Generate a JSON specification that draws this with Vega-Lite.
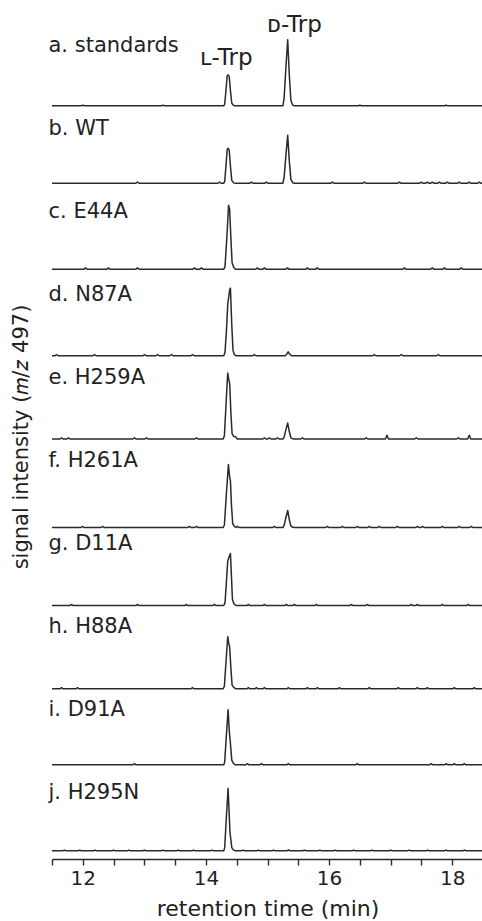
{
"$schema": "https://vega.github.io/schema/vega-lite/v6.json",
"padding": {"left": 10, "top": 14, "right": 0, "bottom": 0},
"background": "white",
"bounds": "flush",
"config": {"view": {"stroke": null}, "font": "DejaVu Sans"},
"datasets": {
"labels": [{"s":"a","label":"a. standards"},{"s":"b","label":"b. WT"},{"s":"c","label":"c. E44A"},{"s":"d","label":"d. N87A"},{"s":"e","label":"e. H259A"},{"s":"f","label":"f. H261A"},{"s":"g","label":"g. D11A"},{"s":"h","label":"h. H88A"},{"s":"i","label":"i. D91A"},{"s":"j","label":"j. H295N"}],
"traces": [
{"s":"a","t":11.5,"v":7.5},{"s":"a","t":11.975,"v":7.5},{"s":"a","t":12,"v":8.1},{"s":"a","t":12.025,"v":7.5},{"s":"a","t":13.275,"v":7.5},{"s":"a","t":13.3,"v":8.1},{"s":"a","t":13.325,"v":7.5},
{"s":"a","t":14.29,"v":7.5},{"s":"a","t":14.305,"v":9.4},{"s":"a","t":14.33,"v":29.9},{"s":"a","t":14.345,"v":43.7},{"s":"a","t":14.36,"v":44.8},{"s":"a","t":14.378,"v":42.9},{"s":"a","t":14.4,"v":24.3},{"s":"a","t":14.42,"v":10.5},{"s":"a","t":14.45,"v":7.9},{"s":"a","t":14.48,"v":7.5},
{"s":"a","t":15.25,"v":7.5},{"s":"a","t":15.27,"v":17},{"s":"a","t":15.3,"v":55.2},{"s":"a","t":15.328,"v":87},{"s":"a","t":15.355,"v":43.3},{"s":"a","t":15.38,"v":13.9},{"s":"a","t":15.41,"v":8.3},{"s":"a","t":15.44,"v":7.5},
{"s":"a","t":16.475,"v":7.5},{"s":"a","t":16.5,"v":8.1},{"s":"a","t":16.525,"v":7.5},{"s":"a","t":17.875,"v":7.5},{"s":"a","t":17.9,"v":8.1},{"s":"a","t":17.925,"v":7.5},{"s":"a","t":18.5,"v":7.5},

{"s":"b","t":11.5,"v":14.2},{"s":"b","t":12.863,"v":14.2},{"s":"b","t":12.888,"v":15.7},{"s":"b","t":12.913,"v":14.2},{"s":"b","t":14.194,"v":14.2},{"s":"b","t":14.219,"v":15.7},{"s":"b","t":14.244,"v":14.2},
{"s":"b","t":14.29,"v":14.2},{"s":"b","t":14.305,"v":16.3},{"s":"b","t":14.33,"v":39.4},{"s":"b","t":14.345,"v":54.9},{"s":"b","t":14.36,"v":56.2},{"s":"b","t":14.378,"v":54.1},{"s":"b","t":14.4,"v":33.1},{"s":"b","t":14.42,"v":17.6},{"s":"b","t":14.45,"v":14.6},{"s":"b","t":14.48,"v":14.2},
{"s":"b","t":14.714,"v":14.2},{"s":"b","t":14.739,"v":15.4},{"s":"b","t":14.764,"v":14.2},{"s":"b","t":14.957,"v":14.2},{"s":"b","t":14.982,"v":15.4},{"s":"b","t":15.007,"v":14.2},
{"s":"b","t":15.25,"v":14.2},{"s":"b","t":15.27,"v":21.1},{"s":"b","t":15.3,"v":48.9},{"s":"b","t":15.328,"v":72},{"s":"b","t":15.355,"v":40.2},{"s":"b","t":15.38,"v":18.8},{"s":"b","t":15.41,"v":14.8},{"s":"b","t":15.44,"v":14.2},
{"s":"b","t":16.029,"v":14.2},{"s":"b","t":16.054,"v":15.4},{"s":"b","t":16.079,"v":14.2},
{"s":"b","t":16.548,"v":14.2},{"s":"b","t":16.573,"v":15.4},{"s":"b","t":16.598,"v":14.2},
{"s":"b","t":17.116,"v":14.2},{"s":"b","t":17.141,"v":15.4},{"s":"b","t":17.166,"v":14.2},
{"s":"b","t":17.473,"v":14.2},{"s":"b","t":17.498,"v":15.4},{"s":"b","t":17.523,"v":14.2},
{"s":"b","t":17.571,"v":14.2},{"s":"b","t":17.596,"v":15.4},{"s":"b","t":17.621,"v":14.2},
{"s":"b","t":17.652,"v":14.2},{"s":"b","t":17.677,"v":15.4},{"s":"b","t":17.702,"v":14.2},
{"s":"b","t":17.766,"v":14.2},{"s":"b","t":17.791,"v":15.4},{"s":"b","t":17.816,"v":14.2},
{"s":"b","t":17.895,"v":14.2},{"s":"b","t":17.92,"v":15.4},{"s":"b","t":17.945,"v":14.2},
{"s":"b","t":18.09,"v":14.2},{"s":"b","t":18.115,"v":15.4},{"s":"b","t":18.14,"v":14.2},
{"s":"b","t":18.252,"v":14.2},{"s":"b","t":18.277,"v":15.4},{"s":"b","t":18.302,"v":14.2},
{"s":"b","t":18.415,"v":14.2},{"s":"b","t":18.44,"v":15.4},{"s":"b","t":18.465,"v":14.2},{"s":"b","t":18.5,"v":14.2},

{"s":"c","t":11.5,"v":10.6},
{"s":"c","t":12.019,"v":10.6},{"s":"c","t":12.044,"v":12.1},{"s":"c","t":12.069,"v":10.6},
{"s":"c","t":12.392,"v":10.6},{"s":"c","t":12.417,"v":12.1},{"s":"c","t":12.442,"v":10.6},
{"s":"c","t":12.863,"v":10.6},{"s":"c","t":12.888,"v":12.1},{"s":"c","t":12.913,"v":10.6},
{"s":"c","t":13.788,"v":10.6},{"s":"c","t":13.813,"v":12.1},{"s":"c","t":13.838,"v":10.6},
{"s":"c","t":13.902,"v":10.6},{"s":"c","t":13.927,"v":12.1},{"s":"c","t":13.952,"v":10.6},
{"s":"c","t":14.29,"v":10.6},{"s":"c","t":14.31,"v":13.7},{"s":"c","t":14.34,"v":49.1},{"s":"c","t":14.368,"v":87.6},{"s":"c","t":14.385,"v":82.2},{"s":"c","t":14.405,"v":49.1},{"s":"c","t":14.425,"v":18.3},{"s":"c","t":14.45,"v":12.9},{"s":"c","t":14.48,"v":10.6},
{"s":"c","t":14.811,"v":10.6},{"s":"c","t":14.836,"v":12.1},{"s":"c","t":14.861,"v":10.6},
{"s":"c","t":14.925,"v":10.6},{"s":"c","t":14.95,"v":12.1},{"s":"c","t":14.975,"v":10.6},
{"s":"c","t":15.298,"v":10.6},{"s":"c","t":15.323,"v":12.1},{"s":"c","t":15.348,"v":10.6},
{"s":"c","t":15.623,"v":10.6},{"s":"c","t":15.648,"v":12.1},{"s":"c","t":15.673,"v":10.6},
{"s":"c","t":15.785,"v":10.6},{"s":"c","t":15.81,"v":12.1},{"s":"c","t":15.835,"v":10.6},
{"s":"c","t":17.197,"v":10.6},{"s":"c","t":17.222,"v":12.1},{"s":"c","t":17.247,"v":10.6},
{"s":"c","t":17.652,"v":10.6},{"s":"c","t":17.677,"v":12.1},{"s":"c","t":17.702,"v":10.6},
{"s":"c","t":17.847,"v":10.6},{"s":"c","t":17.872,"v":12.1},{"s":"c","t":17.897,"v":10.6},
{"s":"c","t":18.123,"v":10.6},{"s":"c","t":18.148,"v":12.1},{"s":"c","t":18.173,"v":10.6},{"s":"c","t":18.5,"v":10.6},

{"s":"d","t":11.5,"v":6.3},
{"s":"d","t":11.548,"v":6.3},{"s":"d","t":11.573,"v":7.8},{"s":"d","t":11.598,"v":6.3},
{"s":"d","t":12.165,"v":6.3},{"s":"d","t":12.19,"v":7.8},{"s":"d","t":12.215,"v":6.3},
{"s":"d","t":12.977,"v":6.3},{"s":"d","t":13.002,"v":7.8},{"s":"d","t":13.027,"v":6.3},
{"s":"d","t":13.188,"v":6.3},{"s":"d","t":13.213,"v":7.8},{"s":"d","t":13.238,"v":6.3},
{"s":"d","t":13.415,"v":6.3},{"s":"d","t":13.44,"v":7.8},{"s":"d","t":13.465,"v":6.3},
{"s":"d","t":13.756,"v":6.3},{"s":"d","t":13.781,"v":7.8},{"s":"d","t":13.806,"v":6.3},
{"s":"d","t":14.29,"v":6.3},{"s":"d","t":14.31,"v":10.4},{"s":"d","t":14.335,"v":38.9},{"s":"d","t":14.354,"v":68.2},{"s":"d","t":14.385,"v":85.4},{"s":"d","t":14.398,"v":87.8},{"s":"d","t":14.42,"v":43},{"s":"d","t":14.44,"v":12.8},{"s":"d","t":14.46,"v":7.9},{"s":"d","t":14.49,"v":6.3},
{"s":"d","t":14.762,"v":6.3},{"s":"d","t":14.787,"v":7.8},{"s":"d","t":14.812,"v":6.3},
{"s":"d","t":15.29,"v":6.3},{"s":"d","t":15.315,"v":8.5},{"s":"d","t":15.335,"v":11.1},{"s":"d","t":15.36,"v":8.3},{"s":"d","t":15.39,"v":6.3},
{"s":"d","t":16.71,"v":6.3},{"s":"d","t":16.735,"v":7.8},{"s":"d","t":16.76,"v":6.3},
{"s":"d","t":17.149,"v":6.3},{"s":"d","t":17.174,"v":7.8},{"s":"d","t":17.199,"v":6.3},
{"s":"d","t":17.749,"v":6.3},{"s":"d","t":17.774,"v":7.8},{"s":"d","t":17.799,"v":6.3},{"s":"d","t":18.5,"v":6.3},

{"s":"e","t":11.5,"v":6},
{"s":"e","t":11.629,"v":6},{"s":"e","t":11.654,"v":7.5},{"s":"e","t":11.679,"v":6},
{"s":"e","t":11.743,"v":6},{"s":"e","t":11.768,"v":7.5},{"s":"e","t":11.793,"v":6},
{"s":"e","t":12.814,"v":6},{"s":"e","t":12.839,"v":7.5},{"s":"e","t":12.864,"v":6},
{"s":"e","t":13.009,"v":6},{"s":"e","t":13.034,"v":7.5},{"s":"e","t":13.059,"v":6},
{"s":"e","t":13.821,"v":6},{"s":"e","t":13.846,"v":7.5},{"s":"e","t":13.871,"v":6},
{"s":"e","t":14.28,"v":6},{"s":"e","t":14.3,"v":10},{"s":"e","t":14.325,"v":45.8},{"s":"e","t":14.354,"v":85.5},{"s":"e","t":14.372,"v":77.6},{"s":"e","t":14.386,"v":72.8},{"s":"e","t":14.405,"v":37.8},{"s":"e","t":14.425,"v":12.4},{"s":"e","t":14.45,"v":9.2},{"s":"e","t":14.48,"v":8.8},{"s":"e","t":14.51,"v":6},
{"s":"e","t":14.925,"v":6},{"s":"e","t":14.95,"v":7.5},{"s":"e","t":14.975,"v":6},
{"s":"e","t":15.006,"v":6},{"s":"e","t":15.031,"v":7.5},{"s":"e","t":15.056,"v":6},
{"s":"e","t":15.136,"v":6},{"s":"e","t":15.161,"v":7.5},{"s":"e","t":15.186,"v":6},
{"s":"e","t":15.25,"v":6},{"s":"e","t":15.27,"v":8.3},{"s":"e","t":15.3,"v":17.6},{"s":"e","t":15.328,"v":25.3},{"s":"e","t":15.355,"v":14.7},{"s":"e","t":15.38,"v":7.5},{"s":"e","t":15.41,"v":6.2},{"s":"e","t":15.44,"v":6},
{"s":"e","t":15.542,"v":6},{"s":"e","t":15.567,"v":7.5},{"s":"e","t":15.592,"v":6},
{"s":"e","t":16.579,"v":6},{"s":"e","t":16.604,"v":7.5},{"s":"e","t":16.629,"v":6},
{"s":"e","t":16.915,"v":6},{"s":"e","t":16.94,"v":10.5},{"s":"e","t":16.965,"v":6},
{"s":"e","t":17.392,"v":6},{"s":"e","t":17.417,"v":7.5},{"s":"e","t":17.442,"v":6},
{"s":"e","t":18.074,"v":6},{"s":"e","t":18.099,"v":7.5},{"s":"e","t":18.124,"v":6},
{"s":"e","t":18.252,"v":6},{"s":"e","t":18.277,"v":10.5},{"s":"e","t":18.302,"v":6},{"s":"e","t":18.5,"v":6},

{"s":"f","t":11.5,"v":-0.6},
{"s":"f","t":11.97,"v":-0.6},{"s":"f","t":11.995,"v":0.7},{"s":"f","t":12.02,"v":-0.6},
{"s":"f","t":12.295,"v":-0.6},{"s":"f","t":12.32,"v":0.7},{"s":"f","t":12.345,"v":-0.6},
{"s":"f","t":13.707,"v":-0.6},{"s":"f","t":13.732,"v":0.7},{"s":"f","t":13.757,"v":-0.6},
{"s":"f","t":13.821,"v":-0.6},{"s":"f","t":13.846,"v":0.7},{"s":"f","t":13.871,"v":-0.6},
{"s":"f","t":14.28,"v":-0.6},{"s":"f","t":14.3,"v":2.4},{"s":"f","t":14.33,"v":37.4},{"s":"f","t":14.365,"v":75.4},{"s":"f","t":14.385,"v":60.2},{"s":"f","t":14.398,"v":55.6},{"s":"f","t":14.415,"v":26},{"s":"f","t":14.435,"v":4},{"s":"f","t":14.46,"v":0.9},{"s":"f","t":14.49,"v":-0.6},{"s":"f","t":14.511,"v":0.7},{"s":"f","t":14.536,"v":-0.6},
{"s":"f","t":15.087,"v":-0.6},{"s":"f","t":15.112,"v":0.7},{"s":"f","t":15.137,"v":-0.6},
{"s":"f","t":15.25,"v":-0.6},{"s":"f","t":15.27,"v":1.9},{"s":"f","t":15.3,"v":11.7},{"s":"f","t":15.328,"v":19.9},{"s":"f","t":15.355,"v":8.6},{"s":"f","t":15.38,"v":1},{"s":"f","t":15.41,"v":-0.4},{"s":"f","t":15.44,"v":-0.6},
{"s":"f","t":15.947,"v":-0.6},{"s":"f","t":15.972,"v":0.7},{"s":"f","t":15.997,"v":-0.6},
{"s":"f","t":16.191,"v":-0.6},{"s":"f","t":16.216,"v":0.7},{"s":"f","t":16.241,"v":-0.6},
{"s":"f","t":16.434,"v":-0.6},{"s":"f","t":16.459,"v":0.7},{"s":"f","t":16.484,"v":-0.6},
{"s":"f","t":16.629,"v":-0.6},{"s":"f","t":16.654,"v":0.7},{"s":"f","t":16.679,"v":-0.6},
{"s":"f","t":16.792,"v":-0.6},{"s":"f","t":16.817,"v":0.7},{"s":"f","t":16.842,"v":-0.6},
{"s":"f","t":17.085,"v":-0.6},{"s":"f","t":17.11,"v":0.7},{"s":"f","t":17.135,"v":-0.6},
{"s":"f","t":17.41,"v":-0.6},{"s":"f","t":17.435,"v":0.7},{"s":"f","t":17.46,"v":-0.6},
{"s":"f","t":17.491,"v":-0.6},{"s":"f","t":17.516,"v":0.7},{"s":"f","t":17.541,"v":-0.6},
{"s":"f","t":17.815,"v":-0.6},{"s":"f","t":17.84,"v":0.7},{"s":"f","t":17.865,"v":-0.6},
{"s":"f","t":18.091,"v":-0.6},{"s":"f","t":18.116,"v":0.7},{"s":"f","t":18.141,"v":-0.6},
{"s":"f","t":18.285,"v":-0.6},{"s":"f","t":18.31,"v":0.7},{"s":"f","t":18.335,"v":-0.6},{"s":"f","t":18.5,"v":-0.6},

{"s":"g","t":11.5,"v":5.4},
{"s":"g","t":11.792,"v":5.4},{"s":"g","t":11.817,"v":6.7},{"s":"g","t":11.842,"v":5.4},
{"s":"g","t":12.863,"v":5.4},{"s":"g","t":12.888,"v":6.7},{"s":"g","t":12.913,"v":5.4},
{"s":"g","t":13.658,"v":5.4},{"s":"g","t":13.683,"v":6.7},{"s":"g","t":13.708,"v":5.4},
{"s":"g","t":14.113,"v":5.4},{"s":"g","t":14.138,"v":6.7},{"s":"g","t":14.163,"v":5.4},
{"s":"g","t":14.29,"v":5.4},{"s":"g","t":14.31,"v":8.5},{"s":"g","t":14.335,"v":36.8},{"s":"g","t":14.354,"v":58.7},{"s":"g","t":14.375,"v":63.7},{"s":"g","t":14.398,"v":68.1},{"s":"g","t":14.415,"v":39.9},{"s":"g","t":14.43,"v":12.9},{"s":"g","t":14.455,"v":7.3},{"s":"g","t":14.49,"v":5.4},
{"s":"g","t":14.665,"v":5.4},{"s":"g","t":14.69,"v":6.7},{"s":"g","t":14.715,"v":5.4},
{"s":"g","t":14.925,"v":5.4},{"s":"g","t":14.95,"v":6.7},{"s":"g","t":14.975,"v":5.4},
{"s":"g","t":15.282,"v":5.4},{"s":"g","t":15.307,"v":6.7},{"s":"g","t":15.332,"v":5.4},
{"s":"g","t":15.412,"v":5.4},{"s":"g","t":15.437,"v":6.7},{"s":"g","t":15.462,"v":5.4},
{"s":"g","t":15.769,"v":5.4},{"s":"g","t":15.794,"v":6.7},{"s":"g","t":15.819,"v":5.4},
{"s":"g","t":16.337,"v":5.4},{"s":"g","t":16.362,"v":6.7},{"s":"g","t":16.387,"v":5.4},
{"s":"g","t":16.597,"v":5.4},{"s":"g","t":16.622,"v":6.7},{"s":"g","t":16.647,"v":5.4},
{"s":"g","t":17.311,"v":5.4},{"s":"g","t":17.336,"v":6.7},{"s":"g","t":17.361,"v":5.4},
{"s":"g","t":17.408,"v":5.4},{"s":"g","t":17.433,"v":6.7},{"s":"g","t":17.458,"v":5.4},
{"s":"g","t":17.814,"v":5.4},{"s":"g","t":17.839,"v":6.7},{"s":"g","t":17.864,"v":5.4},
{"s":"g","t":18.236,"v":5.4},{"s":"g","t":18.261,"v":6.7},{"s":"g","t":18.286,"v":5.4},{"s":"g","t":18.5,"v":5.4},

{"s":"h","t":11.5,"v":5.1},
{"s":"h","t":11.629,"v":5.1},{"s":"h","t":11.654,"v":6.4},{"s":"h","t":11.679,"v":5.1},
{"s":"h","t":11.889,"v":5.1},{"s":"h","t":11.914,"v":6.4},{"s":"h","t":11.939,"v":5.1},
{"s":"h","t":13.756,"v":5.1},{"s":"h","t":13.781,"v":6.4},{"s":"h","t":13.806,"v":5.1},
{"s":"h","t":14.28,"v":5.1},{"s":"h","t":14.3,"v":8.2},{"s":"h","t":14.325,"v":36.5},{"s":"h","t":14.354,"v":67.8},{"s":"h","t":14.37,"v":60.3},{"s":"h","t":14.386,"v":55.3},{"s":"h","t":14.405,"v":30.2},{"s":"h","t":14.425,"v":9.5},{"s":"h","t":14.45,"v":7},{"s":"h","t":14.48,"v":5.1},
{"s":"h","t":14.665,"v":5.1},{"s":"h","t":14.69,"v":6.4},{"s":"h","t":14.715,"v":5.1},
{"s":"h","t":14.795,"v":5.1},{"s":"h","t":14.82,"v":6.4},{"s":"h","t":14.845,"v":5.1},
{"s":"h","t":14.925,"v":5.1},{"s":"h","t":14.95,"v":6.4},{"s":"h","t":14.975,"v":5.1},
{"s":"h","t":15.314,"v":5.1},{"s":"h","t":15.339,"v":6.4},{"s":"h","t":15.364,"v":5.1},
{"s":"h","t":15.623,"v":5.1},{"s":"h","t":15.648,"v":6.4},{"s":"h","t":15.673,"v":5.1},
{"s":"h","t":15.785,"v":5.1},{"s":"h","t":15.81,"v":6.4},{"s":"h","t":15.835,"v":5.1},
{"s":"h","t":16.142,"v":5.1},{"s":"h","t":16.167,"v":6.4},{"s":"h","t":16.192,"v":5.1},
{"s":"h","t":16.629,"v":5.1},{"s":"h","t":16.654,"v":6.4},{"s":"h","t":16.679,"v":5.1},
{"s":"h","t":17.1,"v":5.1},{"s":"h","t":17.125,"v":6.4},{"s":"h","t":17.15,"v":5.1},
{"s":"h","t":17.408,"v":5.1},{"s":"h","t":17.433,"v":6.4},{"s":"h","t":17.458,"v":5.1},
{"s":"h","t":17.571,"v":5.1},{"s":"h","t":17.596,"v":6.4},{"s":"h","t":17.621,"v":5.1},
{"s":"h","t":18.009,"v":5.1},{"s":"h","t":18.034,"v":6.4},{"s":"h","t":18.059,"v":5.1},
{"s":"h","t":18.334,"v":5.1},{"s":"h","t":18.359,"v":6.4},{"s":"h","t":18.384,"v":5.1},{"s":"h","t":18.5,"v":5.1},

{"s":"i","t":11.5,"v":13.5},
{"s":"i","t":12.814,"v":13.5},{"s":"i","t":12.839,"v":14.8},{"s":"i","t":12.864,"v":13.5},
{"s":"i","t":14.29,"v":13.5},{"s":"i","t":14.305,"v":16.8},{"s":"i","t":14.33,"v":46.7},{"s":"i","t":14.36,"v":79.8},{"s":"i","t":14.38,"v":53.3},{"s":"i","t":14.398,"v":39.4},{"s":"i","t":14.42,"v":18.8},{"s":"i","t":14.45,"v":14.8},{"s":"i","t":14.48,"v":13.5},
{"s":"i","t":14.649,"v":13.5},{"s":"i","t":14.674,"v":14.8},{"s":"i","t":14.699,"v":13.5},
{"s":"i","t":14.876,"v":13.5},{"s":"i","t":14.901,"v":14.8},{"s":"i","t":14.926,"v":13.5},
{"s":"i","t":15.314,"v":13.5},{"s":"i","t":15.339,"v":14.8},{"s":"i","t":15.364,"v":13.5},
{"s":"i","t":16.434,"v":13.5},{"s":"i","t":16.459,"v":14.8},{"s":"i","t":16.484,"v":13.5},
{"s":"i","t":17.635,"v":13.5},{"s":"i","t":17.66,"v":14.8},{"s":"i","t":17.685,"v":13.5},
{"s":"i","t":17.879,"v":13.5},{"s":"i","t":17.904,"v":14.8},{"s":"i","t":17.929,"v":13.5},
{"s":"i","t":18.009,"v":13.5},{"s":"i","t":18.034,"v":14.8},{"s":"i","t":18.059,"v":13.5},
{"s":"i","t":18.171,"v":13.5},{"s":"i","t":18.196,"v":14.8},{"s":"i","t":18.221,"v":13.5},{"s":"i","t":18.5,"v":13.5},

{"s":"j","t":11.5,"v":9.9},
{"s":"j","t":11.675,"v":9.9},{"s":"j","t":11.7,"v":10.7},{"s":"j","t":11.725,"v":9.9},
{"s":"j","t":11.925,"v":9.9},{"s":"j","t":11.95,"v":10.7},{"s":"j","t":11.975,"v":9.9},
{"s":"j","t":12.175,"v":9.9},{"s":"j","t":12.2,"v":10.7},{"s":"j","t":12.225,"v":9.9},
{"s":"j","t":12.475,"v":9.9},{"s":"j","t":12.5,"v":10.7},{"s":"j","t":12.525,"v":9.9},
{"s":"j","t":12.725,"v":9.9},{"s":"j","t":12.75,"v":10.7},{"s":"j","t":12.775,"v":9.9},
{"s":"j","t":12.975,"v":9.9},{"s":"j","t":13,"v":10.7},{"s":"j","t":13.025,"v":9.9},
{"s":"j","t":13.275,"v":9.9},{"s":"j","t":13.3,"v":10.7},{"s":"j","t":13.325,"v":9.9},
{"s":"j","t":13.525,"v":9.9},{"s":"j","t":13.55,"v":10.7},{"s":"j","t":13.575,"v":9.9},
{"s":"j","t":13.775,"v":9.9},{"s":"j","t":13.8,"v":10.7},{"s":"j","t":13.825,"v":9.9},
{"s":"j","t":14.075,"v":9.9},{"s":"j","t":14.1,"v":10.7},{"s":"j","t":14.125,"v":9.9},
{"s":"j","t":14.29,"v":9.9},{"s":"j","t":14.305,"v":13.7},{"s":"j","t":14.33,"v":47.6},{"s":"j","t":14.36,"v":85.3},{"s":"j","t":14.39,"v":32.5},{"s":"j","t":14.42,"v":13.7},{"s":"j","t":14.45,"v":10.7},{"s":"j","t":14.48,"v":9.9},
{"s":"j","t":14.575,"v":9.9},{"s":"j","t":14.6,"v":10.7},{"s":"j","t":14.625,"v":9.9},
{"s":"j","t":14.825,"v":9.9},{"s":"j","t":14.85,"v":10.7},{"s":"j","t":14.875,"v":9.9},
{"s":"j","t":15.075,"v":9.9},{"s":"j","t":15.1,"v":10.7},{"s":"j","t":15.125,"v":9.9},
{"s":"j","t":15.315,"v":9.9},{"s":"j","t":15.34,"v":11.1},{"s":"j","t":15.365,"v":9.9},
{"s":"j","t":15.575,"v":9.9},{"s":"j","t":15.6,"v":10.7},{"s":"j","t":15.625,"v":9.9},
{"s":"j","t":15.825,"v":9.9},{"s":"j","t":15.85,"v":10.7},{"s":"j","t":15.875,"v":9.9},
{"s":"j","t":16.075,"v":9.9},{"s":"j","t":16.1,"v":10.7},{"s":"j","t":16.125,"v":9.9},
{"s":"j","t":16.375,"v":9.9},{"s":"j","t":16.4,"v":10.7},{"s":"j","t":16.425,"v":9.9},
{"s":"j","t":16.675,"v":9.9},{"s":"j","t":16.7,"v":10.7},{"s":"j","t":16.725,"v":9.9},
{"s":"j","t":16.975,"v":9.9},{"s":"j","t":17,"v":10.7},{"s":"j","t":17.025,"v":9.9},
{"s":"j","t":17.275,"v":9.9},{"s":"j","t":17.3,"v":10.7},{"s":"j","t":17.325,"v":9.9},
{"s":"j","t":17.575,"v":9.9},{"s":"j","t":17.6,"v":10.7},{"s":"j","t":17.625,"v":9.9},
{"s":"j","t":17.875,"v":9.9},{"s":"j","t":17.9,"v":10.7},{"s":"j","t":17.925,"v":9.9},
{"s":"j","t":18.175,"v":9.9},{"s":"j","t":18.2,"v":10.7},{"s":"j","t":18.225,"v":9.9},{"s":"j","t":18.5,"v":9.9}
]
},
"data": {"name": "traces"},
"transform": [{"lookup": "s", "from": {"data": {"name": "labels"}, "key": "s", "fields": ["label"]}}],
"facet": {"row": {"field": "s", "type": "nominal", "title": "signal intensity (𝑚/𝑧 497)", "header": {"labels": false, "titleFont": "DejaVu Sans", "titleFontSize": 21, "titleFontWeight": "normal", "titleColor": "#222", "titlePadding": 10}}},
"spacing": {"row": 0},
"spec": {
"width": 431,
"height": 83,
"layer": [
{"mark": {"type": "line", "color": "#2a2a2a", "strokeWidth": 1.5, "strokeJoin": "round"},
"encoding": {
"x": {"field": "t", "type": "quantitative", "scale": {"domain": [11.5, 18.5], "nice": false, "zero": false},
"axis": {"tickCount": 14, "labelExpr": "datum.value % 2 === 0 ? format(datum.value, 'd') : ''", "tickSize": 6, "tickColor": "#2a2a2a", "tickWidth": 1.4, "domainColor": "#2a2a2a", "domainWidth": 1.7, "labelFont": "DejaVu Sans", "labelFontSize": 20, "labelColor": "#222", "labelPadding": 3, "labelFlush": false, "labelOverlap": false, "grid": false, "title": "retention time (min)", "titleFont": "DejaVu Sans", "titleFontSize": 22, "titleFontWeight": "normal", "titleColor": "#222", "titlePadding": 10}},
"y": {"field": "v", "type": "quantitative", "scale": {"domain": [0, 100], "nice": false, "zero": false}, "axis": null}
}},
{"transform": [{"aggregate": [{"op": "count", "as": "n"}], "groupby": ["s", "label"]}],
"mark": {"type": "text", "align": "left", "baseline": "alphabetic", "dx": -3.5, "fontSize": 21, "font": "DejaVu Sans", "color": "#222"},
"encoding": {"x": {"datum": 11.5}, "y": {"datum": 72}, "text": {"field": "label"}}},
{"transform": [{"filter": "datum.s === 'a'"}, {"aggregate": [{"op": "count", "as": "n"}], "groupby": ["s"]}],
"mark": {"type": "text", "align": "center", "baseline": "alphabetic", "fontSize": 23, "font": "DejaVu Sans", "color": "#222"},
"encoding": {"x": {"datum": 14.33}, "y": {"datum": 57.2}, "text": {"value": "ʟ-Trp"}}},
{"transform": [{"filter": "datum.s === 'a'"}, {"aggregate": [{"op": "count", "as": "n"}], "groupby": ["s"]}],
"mark": {"type": "text", "align": "center", "baseline": "alphabetic", "fontSize": 23, "font": "DejaVu Sans", "color": "#222"},
"encoding": {"x": {"datum": 15.437}, "y": {"datum": 95.8}, "text": {"value": "ᴅ-Trp"}}}
]
}
}
